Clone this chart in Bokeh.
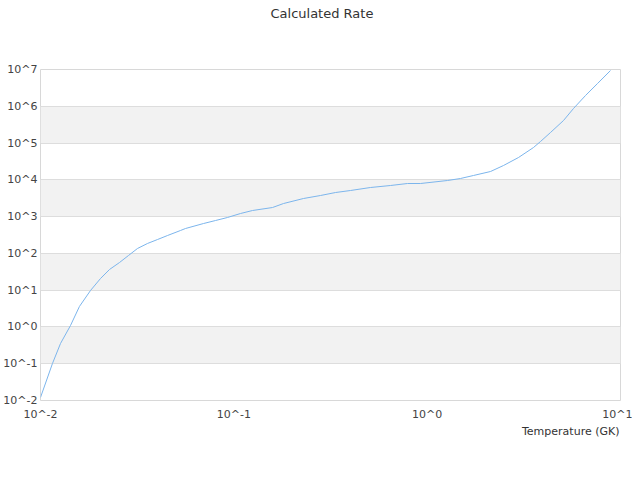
from bokeh.plotting import figure
from bokeh.models import FixedTicker, CustomJSTickFormatter, Range1d, Title, LogAxis
from bokeh.embed import file_html
from bokeh.resources import INLINE

# Temperature (GK) and calculated rate
temperature = [0.01, 0.01153, 0.01269, 0.01429, 0.0159, 0.01814, 0.02043, 0.02275,
               0.02563, 0.02851, 0.03175, 0.03577, 0.04028, 0.04538, 0.05297, 0.05623,
               0.06967, 0.08037, 0.09273, 0.1083, 0.1249, 0.1585, 0.1807, 0.2292,
               0.2807, 0.3356, 0.4012, 0.5091, 0.6461, 0.791, 0.9236, 1.274, 1.487,
               1.736, 2.127, 2.482, 2.968, 3.548, 3.857, 4.345, 5.072, 5.713, 6.592,
               7.603, 8.877]
rate = [0.0121, 0.1014, 0.355, 1.09, 3.6, 9.8, 20.7, 36.5,
        56.5, 87.5, 136, 186, 238, 306, 419, 475,
        649, 783, 946, 1214, 1465, 1767, 2270, 3105,
        3748, 4520, 5125, 6185, 7010, 7945, 7945, 9590, 10870,
        13120, 16840, 24530, 40470, 75680, 110200, 193500, 410300, 869700, 1.96e6,
        4.15e6, 9.38e6]

x_ticks = [1e-2, 1e-1, 1e0, 1e1]
y_ticks = [1e-2, 1e-1, 1e0, 1e1, 1e2, 1e3, 1e4, 1e5, 1e6, 1e7]
x_title = "Temperature (GK)"
chart_title = "Calculated Rate"

FONT = "DejaVu Sans"

p = figure(width=632, height=472, x_axis_type="log", y_axis_type="log",
           x_range=Range1d(x_ticks[0], x_ticks[-1]),
           y_range=Range1d(y_ticks[0], y_ticks[-1]),
           output_backend="svg", toolbar_location=None,
           min_border_left=0, min_border_right=12, min_border_top=69,
           min_border_bottom=72)

xaxis = p.below[0]
yaxis = p.left[0]

fmt = CustomJSTickFormatter(code="return '10^' + Math.round(Math.log10(tick));")

for ax, ticks in ((xaxis, x_ticks), (yaxis, y_ticks)):
    ax.ticker = FixedTicker(ticks=ticks, minor_ticks=[])
    ax.formatter = fmt
    ax.major_tick_line_color = None
    ax.minor_tick_line_color = None
    ax.major_tick_out = 0
    ax.major_tick_in = 0
    ax.minor_tick_out = 0
    ax.minor_tick_in = 0
    ax.axis_line_color = None
    ax.major_label_text_font = FONT
    ax.major_label_text_font_size = "11px"
    ax.major_label_text_color = "#444444"

yaxis.major_label_standoff = 3
xaxis.major_label_standoff = 7

# invisible spacer between the frame and the title (one unlabeled, undrawn tick)
spacer = LogAxis(ticker=FixedTicker(ticks=[1.0], minor_ticks=[]),
                 formatter=CustomJSTickFormatter(code="return '';"),
                 major_tick_out=42, major_tick_in=0, minor_tick_out=0, minor_tick_in=0,
                 major_tick_line_color=None, minor_tick_line_color=None,
                 axis_line_color=None, major_label_standoff=0)
p.add_layout(spacer, "above")

p.title.text = chart_title
p.title.align = "left"
p.title.offset = 230
p.title.text_font = FONT
p.title.text_font_size = "13px"
p.title.text_font_style = "normal"
p.title.text_color = "#333333"
p.title.vertical_align = "top"
p.title.standoff = 10

p.line(temperature, rate, line_color="#7cb5ec", line_width=1)

p.add_layout(Title(text=x_title, align="right", offset=1, vertical_align="top",
                   standoff=2, text_font=FONT, text_font_size="11px",
                   text_font_style="normal", text_color="#333333"), "below")

p.xgrid.grid_line_color = None
p.ygrid.grid_line_color = "#dddddd"
p.ygrid.band_fill_color = "#f2f2f2"
p.ygrid.band_fill_alpha = 1.0

p.outline_line_color = "#d8d8d8"
p.background_fill_color = "white"
p.border_fill_color = "white"

open("out.html", "w").write(file_html(p, INLINE))
